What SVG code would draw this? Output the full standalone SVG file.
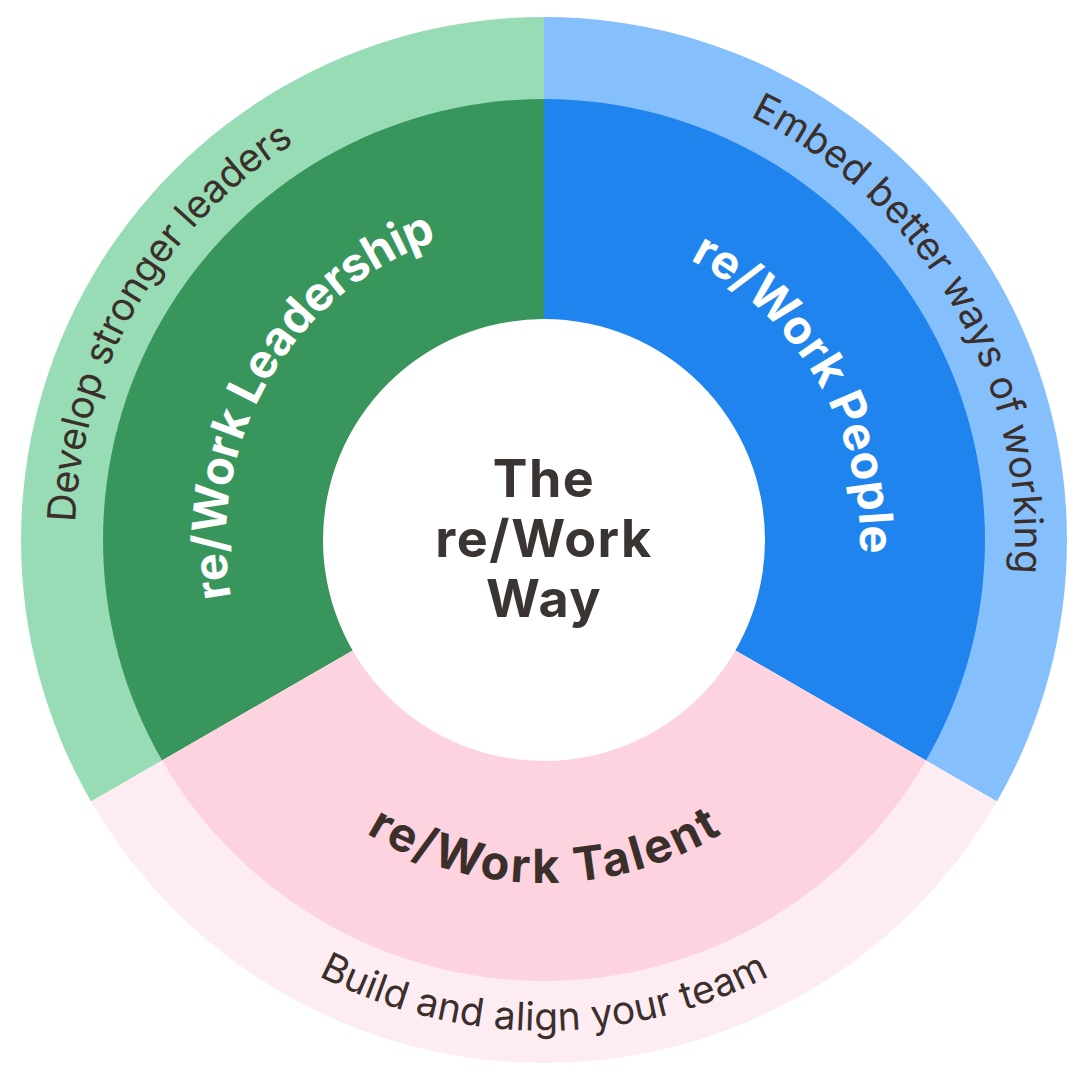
<svg xmlns="http://www.w3.org/2000/svg" width="1080" height="1080" viewBox="0 0 1080 1080">
  <style>
    .lbl { font-family: Inter, "Liberation Sans", sans-serif; }
    .outer { font-size: 39px; font-weight: 400; fill: #3B2F2B; }
    .inner { font-size: 47px; font-weight: 700; }
    .white { fill: #FFFFFF; }
    .dark { fill: #3B2F2B; }
    .center { font-size: 52px; font-weight: 700; fill: #3A3533; letter-spacing: 1.5px; }
  </style>
  <defs>
    <path id="pGreenOuter" d="M242.5,899.3 A469,469 0 0 1 704.4,99.3"/>
    <path id="pBlueOuter" d="M382.9,97.4 A471,471 0 0 1 846.8,900.8"/>
    <path id="pPinkOuter" d="M60.5,625.2 A491,491 0 0 0 1027.5,625.2"/>
    <path id="pGreenInner" d="M339.6,783.6 A318,318 0 0 1 652.8,241.2"/>
    <path id="pBlueInner" d="M435.9,243.1 A316,316 0 0 1 747.1,782.1"/>
    <path id="pPinkInner" d="M206.2,599.5 A343,343 0 0 0 881.8,599.5"/>
  </defs>
  <rect width="1080" height="1080" fill="#FFFFFF"/>

  <g id="leadership">
    <path d="M544,540 L544,17 A523,523 0 0 0 91.1,801.5 Z" fill="#98DCB5"/>
    <path d="M544,540 L544,99 A441,441 0 0 0 162.1,760.5 Z" fill="#38955C"/>
  </g>
  <g id="people">
    <path d="M544,540 L544,17 A523,523 0 0 1 996.9,801.5 Z" fill="#86C0FC"/>
    <path d="M544,540 L544,99 A441,441 0 0 1 925.9,760.5 Z" fill="#1F84EE"/>
  </g>
  <g id="talent">
    <path d="M544,540 L996.9,801.5 A523,523 0 0 1 91.1,801.5 Z" fill="#FDEDF2"/>
    <path d="M544,540 L925.9,760.5 A441,441 0 0 1 162.1,760.5 Z" fill="#FDD3E0"/>
  </g>
  <g id="core">
    <circle cx="544" cy="540" r="221" fill="#FFFFFF"/>
    <text class="lbl center" text-anchor="middle" x="544" y="497">The</text>
    <text class="lbl center" text-anchor="middle" x="544" y="557">re/Work</text>
    <text class="lbl center" text-anchor="middle" x="544" y="617">Way</text>
  </g>

  <g id="labels">
    <text class="lbl outer" text-anchor="middle"><textPath href="#pGreenOuter" startOffset="50%" textLength="456" lengthAdjust="spacing">Develop stronger leaders</textPath></text>
    <text class="lbl outer" text-anchor="middle"><textPath href="#pBlueOuter" startOffset="50%" textLength="560" lengthAdjust="spacing">Embed better ways of working</textPath></text>
    <text class="lbl outer" text-anchor="middle"><textPath href="#pPinkOuter" startOffset="50%" textLength="469" lengthAdjust="spacing">Build and align your team</textPath></text>
    <text class="lbl inner white" text-anchor="middle"><textPath href="#pGreenInner" startOffset="50%" textLength="448" lengthAdjust="spacing">re/Work Leadership</textPath></text>
    <text class="lbl inner white" text-anchor="middle"><textPath href="#pBlueInner" startOffset="50%" textLength="358" lengthAdjust="spacing">re/Work People</textPath></text>
    <text class="lbl inner dark" text-anchor="middle"><textPath href="#pPinkInner" startOffset="50%" textLength="374" lengthAdjust="spacing">re/Work Talent</textPath></text>
  </g>
</svg>
